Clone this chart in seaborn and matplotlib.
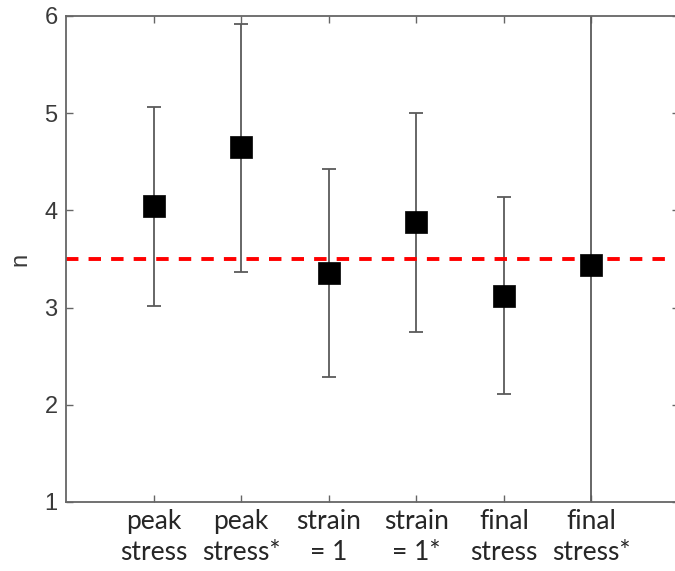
import numpy as np
import pandas as pd
import matplotlib
matplotlib.use("Agg")
import matplotlib.pyplot as plt
import seaborn as sns

categories = ["peak\nstress", "peak\nstress*", "strain\n= 1", "strain\n= 1*", "final\nstress", "final\nstress*"]
n_values = [4.05, 4.65, 3.36, 3.88, 3.12, 3.44]
upper = [5.06, 5.92, 4.43, 5.00, 4.14, 7.00]
lower = [3.02, 3.37, 2.29, 2.75, 2.11, 0.00]
reference_n = 3.5
y_ticks = [1, 2, 3, 4, 5, 6]

sns.set_style("ticks")
plt.rcParams["font.family"] = ["Liberation Sans", "DejaVu Sans"]

df = pd.DataFrame({"case": categories, "n": n_values, "lo": lower, "hi": upper})

fig = plt.figure(figsize=(6.75, 5.71), dpi=100)
ax = fig.add_axes([66 / 675, (571 - 502) / 571, 613 / 675, (502 - 16) / 571])

pos = np.arange(len(categories))
yerr = np.vstack([df["n"] - df["lo"], df["hi"] - df["n"]])
ax.errorbar(pos, df["n"], yerr=yerr, fmt="none", ecolor="#5a5a5a",
            elinewidth=1.3, capsize=4.7, capthick=1.3, zorder=2)

ax.axhline(reference_n, color="#ff0000", lw=2.8, linestyle=(0, (3.2, 2.6)), zorder=2.5)

sns.scatterplot(data=df, x="case", y="n", marker="s", s=265, color="black",
                edgecolor="black", linewidth=0.5, ax=ax, zorder=3, legend=False)

ax.set_xlim(-1, 6)
ax.set_ylim(1, 6)
ax.set_yticks(y_ticks)
ax.set_yticklabels([str(t) for t in y_ticks], fontsize=17, color="#3a3a3a")
ax.set_xticks(pos)
ax.set_xticklabels(categories, fontsize=19, family=["Lato", "DejaVu Sans"],
                   color="#262626", linespacing=1.3)
ax.set_xlabel("")
ax.set_ylabel("n", fontsize=17, color="#3a3a3a", labelpad=9)

for side in ["left", "right", "top", "bottom"]:
    ax.spines[side].set_visible(True)
    ax.spines[side].set_color("#666666")
    ax.spines[side].set_linewidth(1.3)
ax.tick_params(direction="in", length=5, width=1.0, color="#666666",
               top=True, right=True, pad=6)
ax.tick_params(axis="x", pad=5)

fig.savefig("out.png", dpi=100)
